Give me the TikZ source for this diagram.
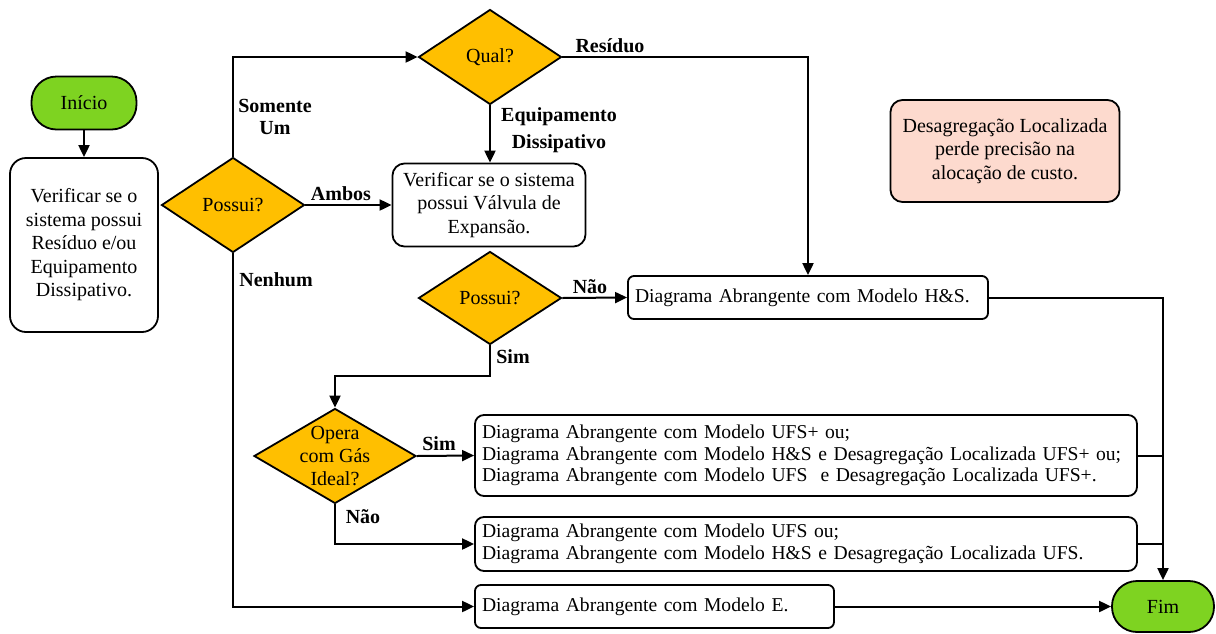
\documentclass[tikz,border=0pt]{standalone}
\usepackage{fontspec}
\setmainfont{Liberation Serif}
\usepackage{tikz}
\usetikzlibrary{shapes.geometric, arrows.meta, positioning, calc}

\definecolor{startgreen}{RGB}{126,211,33}
\definecolor{decgold}{RGB}{255,191,0}
\definecolor{notepink}{RGB}{253,218,206}

\begin{document}
\begin{tikzpicture}[
  x=1pt, y=-1pt,
  every node/.style={font=\fontsize{20}{23.5}\selectfont},
  terminal/.style={rectangle, draw, line width=1.8pt, rounded corners=25pt, fill=startgreen, minimum width=105pt, minimum height=53pt},
  process/.style={rectangle, draw, line width=1.8pt, rounded corners=12pt, fill=white, align=center, inner sep=0pt},
  result/.style={rectangle, draw, line width=1.8pt, rounded corners=9pt, fill=white, align=left, inner xsep=7pt, inner ysep=0pt, font=\fontsize{19.6}{21.5}\selectfont},
  decision/.style={diamond, draw, line width=1.8pt, fill=decgold, minimum width=143pt, minimum height=95pt, inner sep=0pt},
  lbl/.style={font=\bfseries\fontsize{20}{22}\selectfont, align=center, inner sep=0pt},
  arr/.style={line width=2pt, -{Triangle[length=12pt,width=11pt]}},
  joinline/.style={line width=2pt}
]
  \useasboundingbox (0,0) rectangle (1216,633);

  % left column
  \node[terminal] (ini) at (84,103) {Início};
  \node[process, rounded corners=16pt, minimum width=148pt, minimum height=174pt] (ver1) at (84,245)
    {Verificar se o\\sistema possui\\Resíduo e/ou\\Equipamento\\Dissipativo.};
  \node[decision] (poss1) at (233,205) {Possui?};

  % middle column
  \node[decision] (qual) at (490,57) {Qual?};
  \node[process, minimum width=193pt, minimum height=83pt] (ver2) at (489,205)
    {Verificar se o sistema\\possui Válvula de\\Expansão.};
  \node[decision, minimum height=93pt] (poss2) at (490,298) {Possui?};
  \node[decision, minimum width=162pt, label={[align=center, font=\fontsize{20}{23}\selectfont]center:Opera\\com Gás\\Ideal?}] (opera) at (335,456) {};

  % results
  \node[result, rounded corners=6pt, text width=346pt, minimum height=43pt] (hs) at (808,297.5)
    {Diagrama Abrangente com Modelo H\&S.};
  \node[process, fill=notepink, minimum width=229pt, minimum height=102pt] (nota) at (1005,151)
    {Desagregação Localizada\\perde precisão na\\alocação de custo.};
  \node[result, text width=648pt, minimum height=81pt] (ufsp) at (806,455.5)
    {Diagrama Abrangente com Modelo UFS+ ou;\\
     Diagrama Abrangente com Modelo H\&S e Desagregação Localizada UFS+ ou;\\
     Diagrama Abrangente com Modelo UFS\ \ e Desagregação Localizada UFS+.};
  \node[result, text width=648pt, minimum height=54pt] (ufs) at (806,544)
    {Diagrama Abrangente com Modelo UFS ou;\\
     Diagrama Abrangente com Modelo H\&S e Desagregação Localizada UFS.};
  \node[result, rounded corners=6pt, text width=345pt, minimum height=43pt] (mode) at (654.5,606.5)
    {Diagrama Abrangente com Modelo E.};
  \node[terminal, minimum width=102pt, minimum height=51pt] (fim) at (1163,606.5) {Fim};

  % connectors
  \draw[arr] (ini) -- (ver1);
  \draw[arr] (poss1.north) |- (qual.west);
  \draw[arr] (poss1.east) -- (ver2.west);
  \draw[arr] (poss1.south) |- (mode.west);
  \draw[arr] (qual.east) -| (hs.north);
  \draw[arr] (qual.south) -- (qual.south |- ver2.north);
  \draw[arr] (poss2.east) -- (hs.west);
  \draw[arr] (poss2.south) -- ++(0,31) -| (opera.north);
  \draw[arr] (opera.east) -- (ufsp.west);
  \draw[arr] (opera.south) |- (ufs.west);
  \draw[arr] (hs.east) -| (fim.north);
  \draw[joinline] (ufsp.east) -- (ufsp.east -| fim.north);
  \draw[joinline] (ufs.east) -- (ufs.east -| fim.north);
  \draw[arr] (mode.east) -- (fim.west);

  % branch labels
  \node[lbl] (lsom) at (275,117) {Somente\\Um};
  \node[lbl] (lamb) at (341,194) {Ambos};
  \node[lbl] (lnen) at (276,280) {Nenhum};
  \node[lbl] (lres) at (610,46) {Resíduo};
  \node[lbl] (lequ) at (559,130) {Equipamento\\[5pt]Dissipativo};
  \node[lbl] (lnao1) at (590,287) {Não};
  \node[lbl] (lsim1) at (513,357) {Sim};
  \node[lbl] (lsim2) at (439,444) {Sim};
  \node[lbl] (lnao2) at (363,517) {Não};
\end{tikzpicture}
\end{document}
